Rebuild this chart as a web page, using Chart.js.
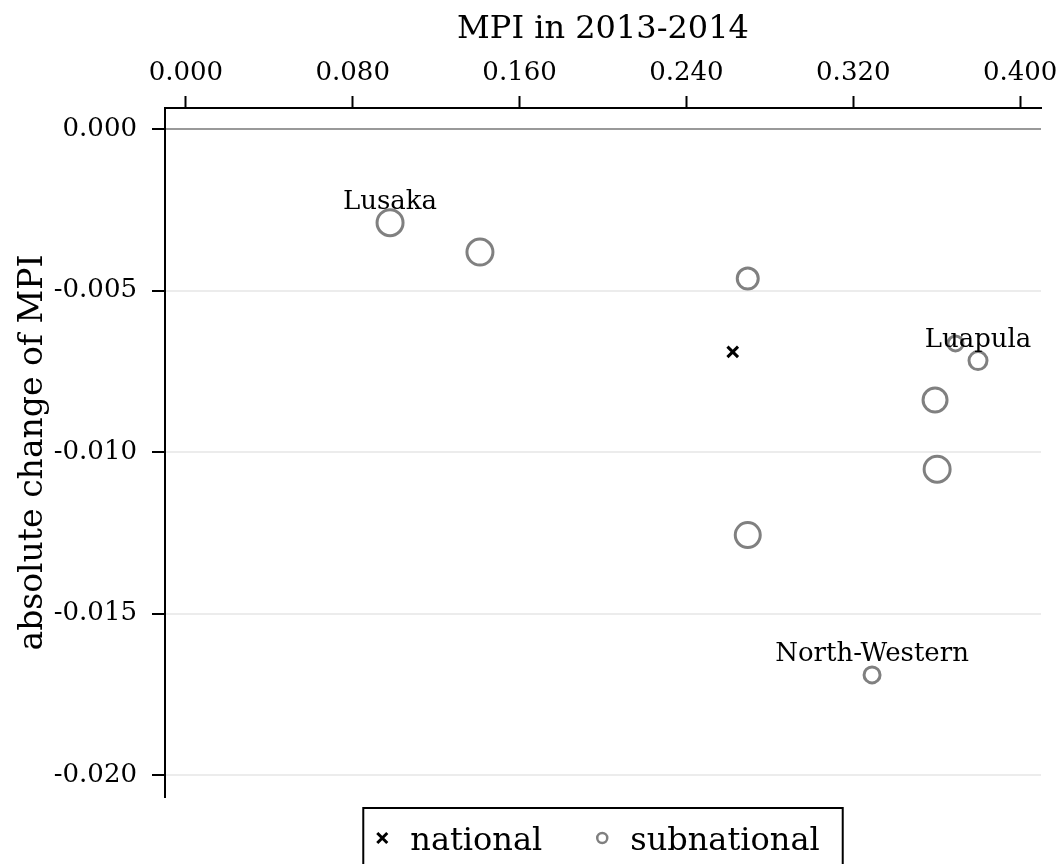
<!DOCTYPE html>
<html>
<head>
<meta charset="utf-8">
<script src="https://cdn.jsdelivr.net/npm/chart.js@4/dist/chart.umd.min.js"></script>
<style>
  body { margin: 0; background: #fff; }
  #wrap { width: 1062px; height: 864px; }
</style>
</head>
<body>
<div id="wrap"><canvas id="chart" width="1062" height="864"></canvas></div>
<script>
// values
const subNames = ["Lusaka", "", "", "", "Luapula", "", "", "", "North-Western"];
const subMpi = [0.0979, 0.1410, 0.2694, 0.3690, 0.3798, 0.3592, 0.3602, 0.2694, 0.3290];
const subChange = [-0.00290, -0.00381, -0.00463, -0.00664, -0.00717, -0.00839, -0.01053, -0.01257, -0.01690];
const subSize = [13, 13, 10.5, 7.5, 9, 12, 13, 12.5, 8];

const natMpi = [0.2622];
const natChange = [-0.00690];

const xTicks = [0, 0.08, 0.16, 0.24, 0.32, 0.40];
const yTicks = [0, -0.005, -0.010, -0.015, -0.020];

const FONT = "'DejaVu Serif', serif";
const GREY = "#808080";

// point labels above the named bubbles
const pointLabels = {
  id: "pointLabels",
  afterDatasetsDraw(chart) {
    const ctx = chart.ctx;
    const meta = chart.getDatasetMeta(1);
    ctx.save();
    ctx.font = "26px " + FONT;
    ctx.fillStyle = "#000";
    ctx.textAlign = "center";
    ctx.textBaseline = "alphabetic";
    meta.data.forEach((pt, i) => {
      if (subNames[i]) ctx.fillText(subNames[i], pt.x, pt.y - 14);
    });
    ctx.restore();
  }
};

// boxed legend under the plot
const boxLegend = {
  id: "boxLegend",
  afterDraw(chart) {
    const ctx = chart.ctx;
    const area = chart.chartArea;
    ctx.save();
    ctx.font = "32px " + FONT;
    const items = chart.data.datasets.map(d => ({ label: d.label, w: ctx.measureText(d.label).width, ds: d }));
    const padL = 12, mark = 14, gap = 21, itemGap = 53, padR = 23;
    let total = padL + padR;
    items.forEach((it, i) => { total += mark + gap + it.w + (i ? itemGap : 0); });
    const cx = (area.left + area.right) / 2;
    const left = cx - total / 2;
    const top = area.bottom + 11;
    ctx.strokeStyle = "#000";
    ctx.lineWidth = 2;
    ctx.strokeRect(left, top, total, 80);

    let x = left + padL;
    const yMid = top + 30;
    items.forEach((it, i) => {
      if (i) x += itemGap;
      const mx = x + mark / 2;
      ctx.beginPath();
      if (it.ds.pointStyle === "crossRot") {
        ctx.strokeStyle = "#000";
        ctx.lineWidth = 3;
        ctx.moveTo(mx - 5, yMid - 5); ctx.lineTo(mx + 5, yMid + 5);
        ctx.moveTo(mx + 5, yMid - 5); ctx.lineTo(mx - 5, yMid + 5);
      } else {
        ctx.strokeStyle = GREY;
        ctx.lineWidth = 2.5;
        ctx.arc(mx, yMid, 5, 0, Math.PI * 2);
      }
      ctx.stroke();
      x += mark + gap;
      ctx.fillStyle = "#000";
      ctx.textAlign = "left";
      ctx.textBaseline = "alphabetic";
      ctx.fillText(it.label, x, top + 42);
      x += it.w;
    });
    ctx.restore();
  }
};

new Chart(document.getElementById("chart"), {
  type: "bubble",
  data: {
    datasets: [
      {
        label: "national",
        data: natMpi.map((v, i) => ({ x: v, y: natChange[i], r: 7.5 })),
        pointStyle: "crossRot",
        borderColor: "#000",
        backgroundColor: "#000",
        borderWidth: 3
      },
      {
        label: "subnational",
        data: subMpi.map((v, i) => ({ x: v, y: subChange[i], r: subSize[i] })),
        pointStyle: "circle",
        borderColor: GREY,
        backgroundColor: "rgba(0,0,0,0)",
        borderWidth: 3
      }
    ]
  },
  options: {
    responsive: false,
    animation: false,
    layout: { padding: { left: 0, top: 0, right: 21, bottom: 67 } },
    plugins: { legend: { display: false }, tooltip: { enabled: false } },
    scales: {
      x: {
        type: "linear",
        position: "top",
        min: -0.01,
        max: 0.41,
        afterBuildTicks: s => { s.ticks = xTicks.map(v => ({ value: v })); },
        afterFit: s => { s.height = 108; s.paddingLeft = 0; s.paddingRight = 0; },
        ticks: {
          font: { family: FONT, size: 26 },
          color: "#000",
          padding: 7,
          maxRotation: 0,
          autoSkip: false,
          callback: v => v.toFixed(3)
        },
        grid: { drawOnChartArea: false, drawTicks: true, tickLength: 12, tickColor: "#000", tickWidth: 2 },
        border: { display: true, color: "#000", width: 2 },
        title: { display: true, text: "MPI in 2013-2014", color: "#000", font: { family: FONT, size: 32 }, padding: { top: 10, bottom: 0 } }
      },
      y: {
        type: "linear",
        position: "left",
        min: -0.02068,
        max: 0.00065,
        afterBuildTicks: s => { s.ticks = yTicks.map(v => ({ value: v })); },
        afterFit: s => { s.width = 165; s.paddingTop = 0; s.paddingBottom = 0; },
        ticks: {
          font: { family: FONT, size: 26 },
          color: "#000",
          padding: 15,
          autoSkip: false,
          callback: v => v.toFixed(3)
        },
        grid: {
          color: c => (c.tick && c.tick.value === 0 ? "#999999" : "#ececec"),
          lineWidth: 2,
          drawTicks: true,
          tickLength: 13,
          tickColor: "#000",
          tickWidth: 2
        },
        border: { display: true, color: "#000", width: 2 },
        title: { display: true, text: "absolute change of MPI", color: "#000", font: { family: FONT, size: 33 }, padding: { top: 14, bottom: 0 } }
      }
    }
  },
  plugins: [pointLabels, boxLegend]
});
</script>
</body>
</html>
